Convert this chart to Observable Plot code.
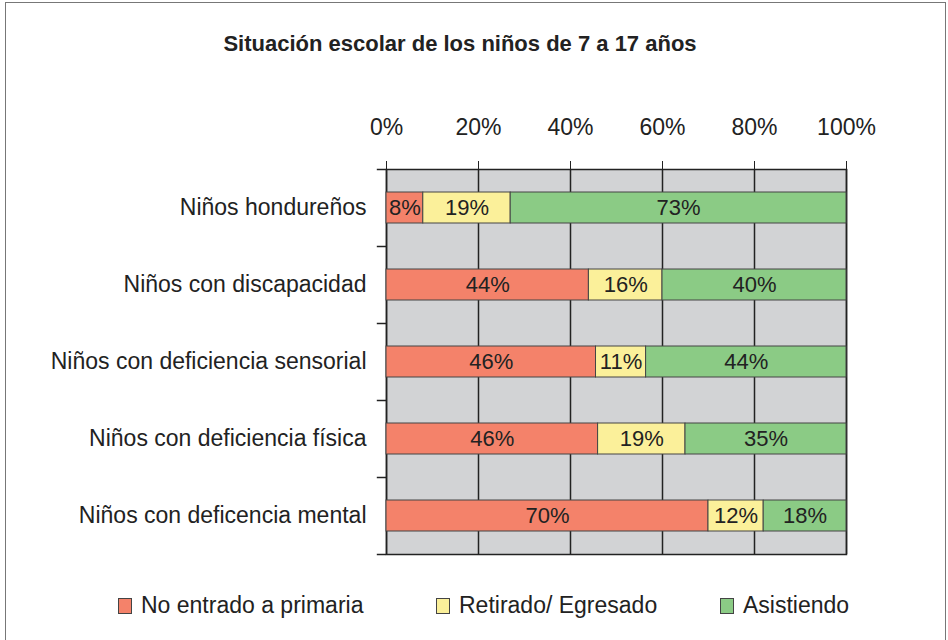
<!DOCTYPE html>
<html><head><meta charset="utf-8">
<script src="https://cdn.jsdelivr.net/npm/d3@7"></script>
<script src="https://cdn.jsdelivr.net/npm/@observablehq/plot@0.6"></script>
<style>
body{margin:0;background:#fff;}
#wrap{position:relative;width:948px;height:640px;overflow:hidden;font-family:"Liberation Sans",sans-serif;color:#222;}
#border{position:absolute;left:5px;top:2px;width:939px;height:700px;border:1.5px solid #777;}
#title{position:absolute;left:0;width:920px;top:31px;text-align:center;font-weight:bold;font-size:22px;}
#chart{position:absolute;left:0;top:100px;}
#legend{position:absolute;top:592px;left:0;font-size:23px;}
.lg{position:absolute;white-space:nowrap;display:flex;align-items:center;}
.sw{display:inline-block;width:12px;height:14px;border:1px solid #444;margin-right:9px;}
</style></head>
<body><div id="wrap"><div id="border"></div>
<div id="title">Situación escolar de los niños de 7 a 17 años</div>
<div id="chart"></div>
<div id="legend"></div>
</div>
<script>
const categories = ["Niños hondureños","Niños con discapacidad","Niños con deficiencia sensorial","Niños con deficiencia física","Niños con deficencia mental"];
const series = ["No entrado a primaria","Retirado/ Egresado","Asistiendo"];
const noEntrado = [8,44,46,46,70];
const retirado = [19,16,11,19,12];
const asistiendo = [73,40,44,35,18];
const xTicks = [0,0.2,0.4,0.6,0.8,1];
const xTickLabels = ["0%","20%","40%","60%","80%","100%"];
const colors = ["#f4826a","#fbf09a","#8bcb85"];

const values = [noEntrado, retirado, asistiendo];
const data = [];
categories.forEach((c,i)=>series.forEach((s,j)=>data.push({cat:c, serie:s, value:values[j][i]})));

const H = 480, MT = 69, MB = 26;
const step = (H - MT - MB) / categories.length;
const font = "'Liberation Sans',sans-serif";
const plot = Plot.plot({
  width:948, height:H,
  marginLeft:386, marginRight:102, marginTop:MT, marginBottom:MB,
  style:{fontFamily:font, fontSize:"23px", color:"#222", background:"transparent"},
  x:{domain:[0,1], axis:null},
  y:{domain:categories, axis:null, paddingInner:0.6, paddingOuter:0.3},
  color:{domain:series, range:colors},
  marks:[
    Plot.frame({fill:"#d2d3d5", stroke:null}),
    Plot.gridX(xTicks, {stroke:"#222", strokeOpacity:1, strokeWidth:1.5}),
    Plot.frame({stroke:"#222", strokeWidth:1.5}),
    Plot.axisX(xTicks, {anchor:"top", label:null, tickSize:9, tickPadding:26, tickFormat:(d,i)=>xTickLabels[i], fontSize:23, stroke:"#222"}),
    Plot.axisY({anchor:"left", label:null, tickSize:0, tickPadding:20, fontSize:23}),
    Plot.ruleY(categories, {y:d=>d, dy:-step/2, x1:-0.02, x2:0, stroke:"#222", strokeWidth:1.5}),
    Plot.ruleY(categories.slice(-1), {y:d=>d, dy:step/2, x1:-0.02, x2:0, stroke:"#222", strokeWidth:1.5}),
    Plot.barX(data, Plot.stackX({offset:"normalize", x:"value", y:"cat", z:"serie", fill:"serie", stroke:"#444", strokeWidth:1, order:series})),
    Plot.text(data, Plot.stackX({offset:"normalize", x:"value", y:"cat", z:"serie", text:d=>d.value+"%", fill:"#222", fontSize:22, order:series}))
  ]
});
document.getElementById("chart").appendChild(plot);

const legend = document.getElementById("legend");
const lx = [118, 436, 720];
series.forEach((s,i)=>{
  const el = document.createElement("div");
  el.className="lg"; el.style.left = lx[i]+"px";
  el.innerHTML = `<span class="sw" style="background:${colors[i]}"></span>${s}`;
  legend.appendChild(el);
});
</script>
</body></html>
